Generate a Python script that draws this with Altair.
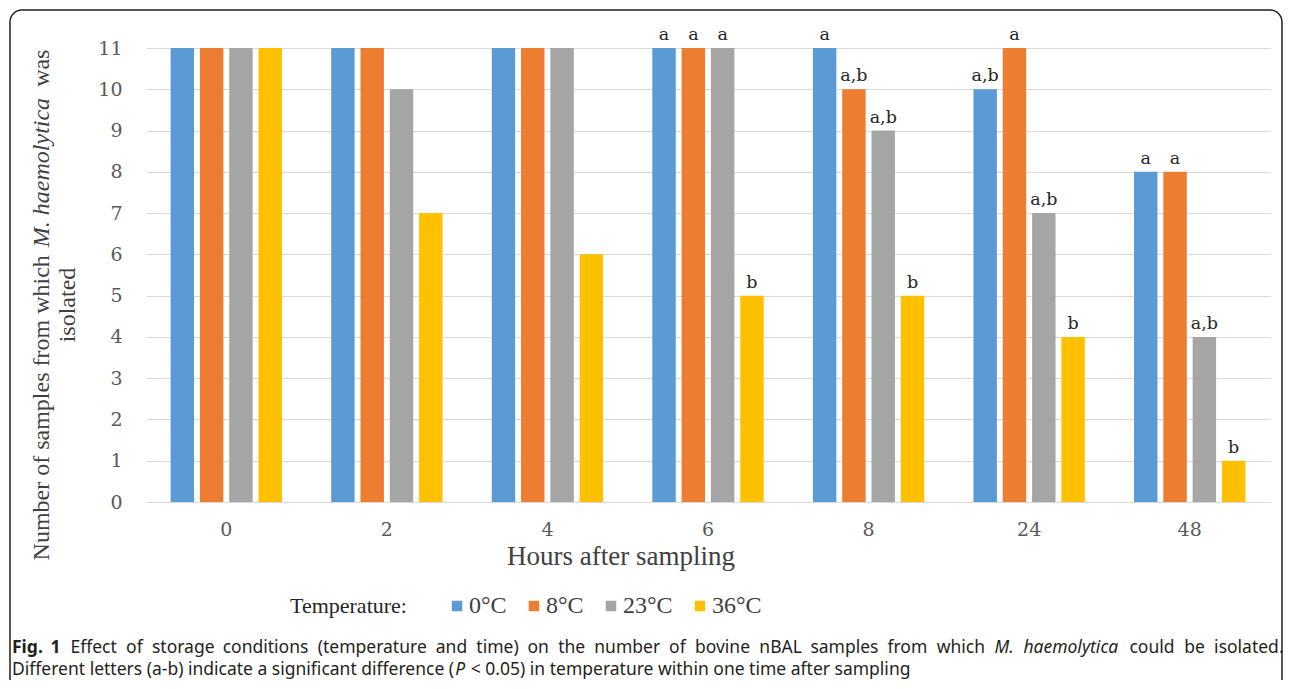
import altair as alt
import pandas as pd

hours = ["0", "2", "4", "6", "8", "24", "48"]
temps = ["0°C", "8°C", "23°C", "36°C"]
colors = ["#5B9BD5", "#ED7D31", "#A5A5A5", "#FFC000"]

v0 = [11, 11, 11, 11, 11, 10, 8]
v8 = [11, 11, 11, 11, 10, 11, 8]
v23 = [11, 10, 11, 11, 9, 7, 4]
v36 = [11, 7, 6, 5, 5, 4, 1]

sig0 = ["", "", "", "a", "a", "a,b", "a"]
sig8 = ["", "", "", "a", "a,b", "a", "a"]
sig23 = ["", "", "", "a", "a,b", "a,b", "a,b"]
sig36 = ["", "", "", "b", "b", "b", "b"]

ytitle_parts = [("Number of samples from which", "normal"), ("M. haemolytica", "italic"), ("was", "normal")]
ytitle_line2 = "isolated"
xtitle_text = "Hours after sampling"
caption_line1 = [("Fig. 1", "bold"),
                 ("Effect of storage conditions (temperature and time) on the number of bovine nBAL samples from which", "normal"),
                 ("M. haemolytica", "italic"), ("could be isolated.", "normal")]
caption_line2 = [("Different letters (a-b) indicate a significant difference (", "normal"), ("P", "italic"),
                 ("< 0.05) in temperature within one time after sampling", "normal")]

rows = []
for t, vals, sigs in zip(temps, [v0, v8, v23, v36], [sig0, sig8, sig23, sig36]):
    for h, v, s in zip(hours, vals, sigs):
        rows.append({"hour": h, "temp": t, "n": v, "sig": s})
df = pd.DataFrame(rows)

SERIF = "Liberation Serif"
TICKF = "DejaVu Serif"
SANS = "Noto Sans"

# approximate advance widths (em) used only to lay out mixed-style text runs
SANS_W = {" ": .26, "a": .556, "b": .613, "c": .512, "d": .613, "e": .561, "f": .339, "g": .548, "h": .614,
          "i": .253, "k": .525, "l": .253, "m": .93, "n": .614, "o": .604, "p": .613, "r": .408, "s": .477,
          "t": .353, "u": .614, "v": .501, "w": .778, "x": .524, "y": .502, "E": .541, "F": .502, "D": .711,
          "B": .633, "L": .502, "A": .633, "M": .881, "N": .742, "P": .593, "(": .291, ")": .291, "-": .322,
          ".": .266, "<": .572, ",": .25}
SERIF_W = {" ": .25, "N": .722, "u": .5, "m": .778, "b": .5, "e": .444, "r": .333, "o": .5, "f": .333,
           "s": .389, "a": .444, "p": .5, "l": .278, "w": .722, "h": .5, "i": .278, "c": .444, "y": .5,
           "t": .278, "M": .833, ".": .25}


def tw(s, table, size, style="normal", ital=0.97):
    w = sum(table.get(ch, .572 if ch.isdigit() else .55) for ch in s)
    if style == "bold":
        w *= 1.06
    elif style == "italic":
        w *= ital
    return w * size


base = alt.Chart(df).encode(
    x=alt.X("hour:N", sort=hours, title=None,
            scale=alt.Scale(paddingInner=0.27, paddingOuter=0.135),
            axis=alt.Axis(labelAngle=0, ticks=False, domain=True, domainColor="#D9D9D9",
                          domainWidth=1, grid=False, labelFont=TICKF, labelFontSize=19,
                          labelColor="#595959", labelPadding=18)),
    xOffset=alt.XOffset("temp:N", sort=temps,
                        scale=alt.Scale(paddingInner=0.2, paddingOuter=0.1)),
    y=alt.Y("n:Q", title=None, scale=alt.Scale(domain=[0, 11], nice=False),
            axis=alt.Axis(values=list(range(12)), grid=True, gridColor="#D9D9D9",
                          gridWidth=1, domain=False, ticks=False, labelFont=TICKF,
                          labelFontSize=19, labelColor="#595959", labelPadding=24)),
)

bars = base.mark_bar().encode(
    color=alt.Color("temp:N", sort=temps, scale=alt.Scale(domain=temps, range=colors),
                    legend=alt.Legend(title="Temperature:", orient="none", legendX=144,
                                      legendY=546, direction="horizontal", titleOrient="left",
                                      titleFont=SERIF, titleFontSize=22, titleFontWeight="normal",
                                      titleColor="#262626", titlePadding=38,
                                      labelFont=SERIF, labelFontSize=24, labelColor="#404040",
                                      symbolType="square", symbolSize=110, symbolStrokeWidth=0,
                                      symbolOpacity=1, columnPadding=15, labelOffset=0,
                                      padding=0))
)

letters = base.mark_text(dy=-8, baseline="alphabetic", font=TICKF, fontSize=17.5,
                         color="#262626").encode(text="sig:N")

one = pd.DataFrame({"k": [0]})


def label(txt, x, y, **kw):
    return alt.Chart(pd.DataFrame({"t": [txt]})).mark_text(**kw).encode(
        text="t:N", x=alt.value(x), y=alt.value(y))


def style_kw(style):
    if style == "bold":
        return {"fontWeight": "bold"}
    if style == "italic":
        return {"fontStyle": "italic"}
    return {}


layers = []

frame = alt.Chart(one).mark_rect(fillOpacity=0, stroke="#231F20", strokeWidth=1.5,
                                 cornerRadius=12).encode(
    x=alt.value(-136), x2=alt.value(1136), y=alt.value(-38), y2=alt.value(720))
layers += [frame, bars, letters]

# rotated y title, line 1 laid out bottom-to-top around its centre
YS = 24
ytk = dict(font=SERIF, fontSize=YS, color="#404040", angle=270, baseline="middle", align="left")
sp = tw(" ", SERIF_W, YS) + 2
widths = [tw(t, SERIF_W, YS, st, ital=1.02) for t, st in ytitle_parts]
total = sum(widths) + sp * (len(widths) - 1)
pos = 305 - 48 + total / 2
for (t, st), w in zip(ytitle_parts, widths):
    layers.append(label(t, -104, pos, **ytk, **style_kw(st)))
    pos -= w + sp
layers.append(label(ytitle_line2, -78, 257, font=SERIF, fontSize=YS, color="#404040", angle=270,
                    baseline="middle", align="center"))

layers.append(label(xtitle_text, 475, 509, align="center", baseline="middle",
                    font=SERIF, fontSize=27, color="#404040"))

# caption: line 1 justified between x=12 and x=1283 (page), line 2 natural
CS = 17.5
cap = dict(font=SANS, fontSize=CS, color="#231F20", baseline="middle", align="left")
left, right = 12 - 146, 1283 - 146
words = []
for t, st in caption_line1:
    for wd in t.split(" "):
        words.append((wd, st))
wws = [tw(w, SANS_W, CS, st) for w, st in words]
gap = (right - left - sum(wws)) / (len(words) - 1)
x = left
for (wd, st), w in zip(words, wws):
    layers.append(label(wd, x, 600, **cap, **style_kw(st)))
    x += w + gap

x = left
for t, st in caption_line2:
    layers.append(label(t, x, 622, **cap, **style_kw(st)))
    x += tw(t, SANS_W, CS, st)
    if t.endswith("("):
        x += 4
    else:
        x += tw(" ", SANS_W, CS) + 1

chart = alt.layer(*layers).properties(
    width=1124, height=454,
    padding={"left": 138, "top": 40, "right": 14, "bottom": 178},
    autosize=alt.AutoSizeParams(type="none"),
    background="white",
).configure_view(stroke=None)

chart.save("out.html", embed_options={"renderer": "svg", "actions": False})
